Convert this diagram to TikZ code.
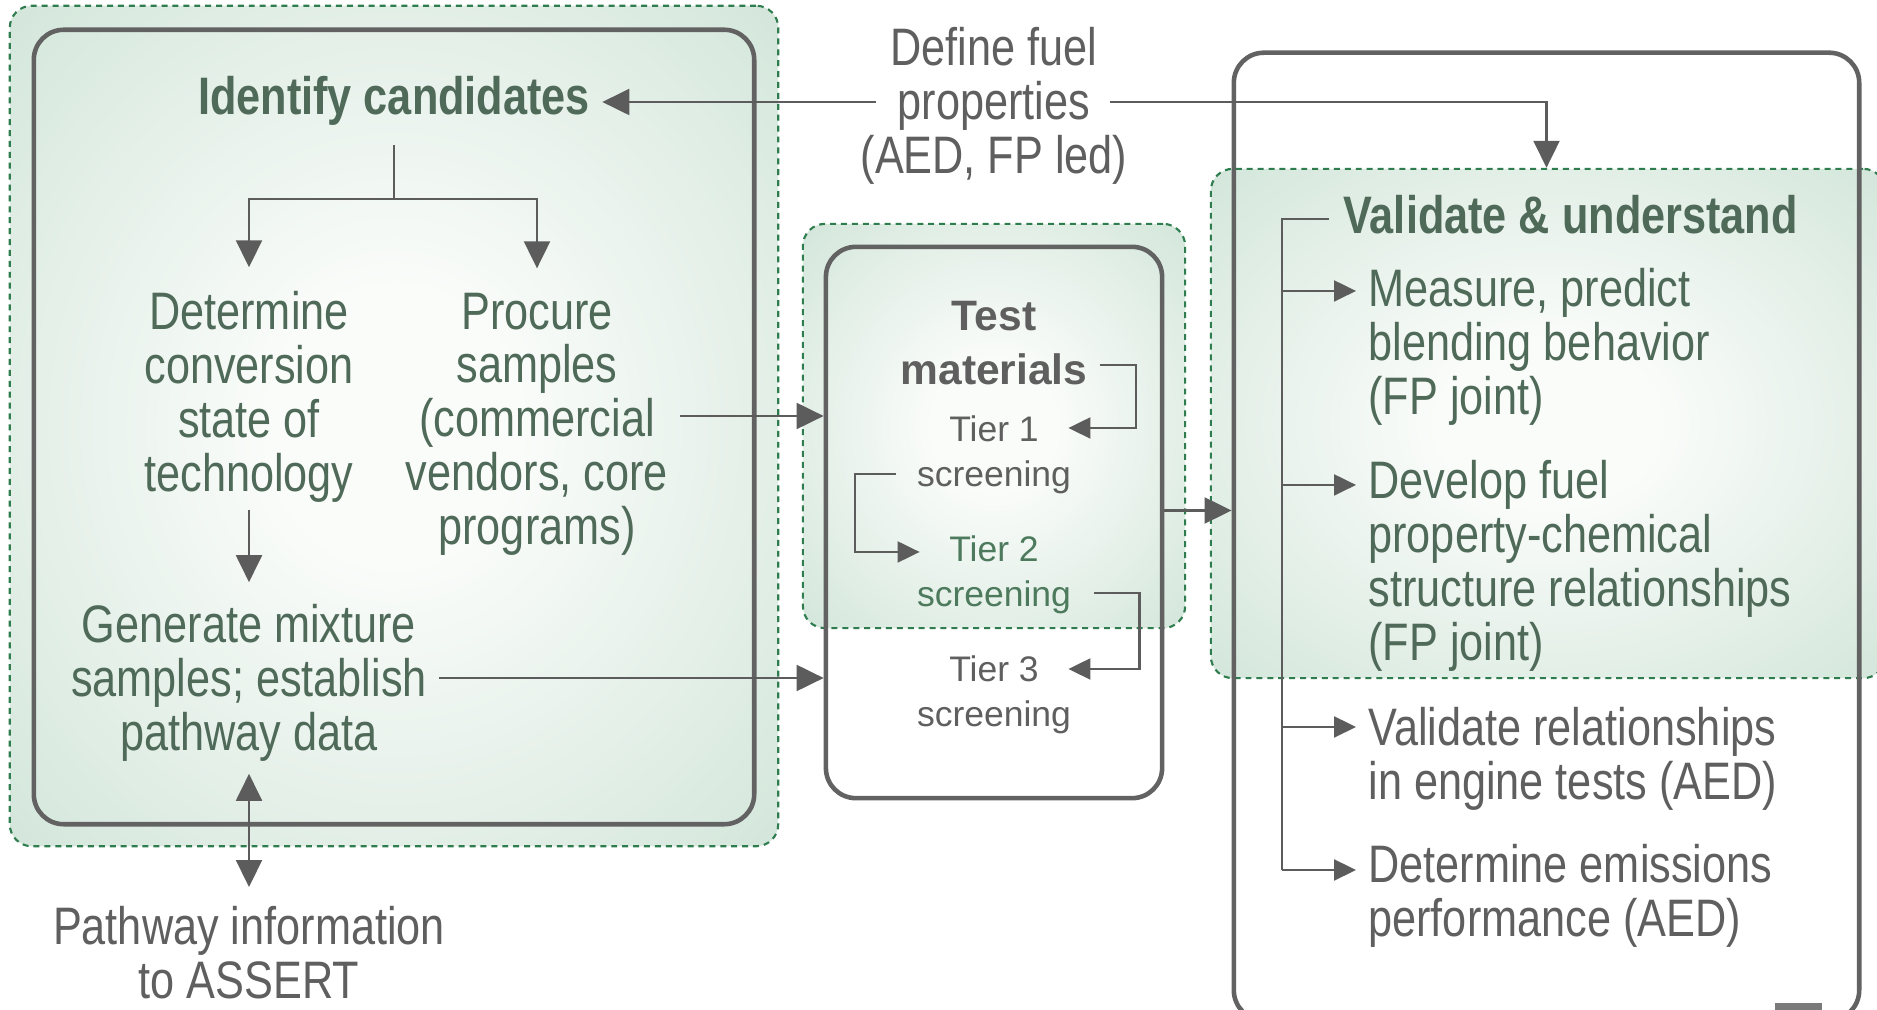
\documentclass[tikz,border=0pt]{standalone}
\usepackage{fontspec}
\setmainfont{Liberation Sans}
\newfontfamily\narrowfont{Liberation Sans}[FakeStretch=0.82]
\usetikzlibrary{arrows.meta,calc}
\definecolor{glowin}{HTML}{FAFCFA}
\definecolor{glowout}{HTML}{CAE1D3}
\definecolor{dgreen}{HTML}{2F7D4E}
\definecolor{boxgray}{HTML}{626262}
\definecolor{lgray}{HTML}{5C5C5C}
\definecolor{tgray}{HTML}{5F5F5F}
\definecolor{gtext}{HTML}{4F6A58}
\definecolor{tgreen}{HTML}{4D7A5C}
\pgfdeclareradialshading{glow}{\pgfpoint{0bp}{0bp}}{color(0bp)=(glowin); color(8bp)=(glowin); color(42bp)=(glowout); color(50bp)=(glowout)}
\begin{document}
\begin{tikzpicture}[x=0.01cm,y=-0.01cm,
  greenbox/.style={draw=dgreen, line width=0.6pt, dash pattern=on 1.7pt off 1.4pt,
    shade, shading=glow, rounded corners=0.22cm, inner sep=0},
  solidbox/.style={draw=boxgray, line width=1.3pt, rounded corners=0.3cm, inner sep=0},
  txt/.style={font=\narrowfont\fontsize{15pt}{15.3pt}\selectfont, align=center},
  btxt/.style={font=\narrowfont\bfseries\fontsize{15pt}{15.3pt}\selectfont, align=center},
  tmtxt/.style={font=\bfseries\fontsize{12.1pt}{15.4pt}\selectfont, align=center},
  tier/.style={font=\fontsize{10.1pt}{12.8pt}\selectfont, align=center},
  line/.style={draw=lgray, line width=0.6pt},
  arr/.style={line, -{Triangle[length=0.27cm,width=0.26cm]}},
  sarr/.style={line, -{Triangle[length=0.22cm,width=0.21cm]}},
  darr/.style={line, {Triangle[length=0.27cm,width=0.26cm]}-{Triangle[length=0.27cm,width=0.26cm]}}
]
\useasboundingbox (0,0) rectangle (1877,1010);
\fill[white] (0,0) rectangle (1877,1010);

% green highlight regions
\node[greenbox, minimum width=7.68cm, minimum height=8.40cm] (gA) at (394,426) {};
\node[greenbox, minimum width=3.82cm, minimum height=4.04cm] (gB) at (994,426) {};
\node[greenbox, minimum width=6.74cm, minimum height=5.09cm] (gC) at (1548,423.5) {};

% solid frames
\node[solidbox, minimum width=7.20cm, minimum height=7.94cm] (bA) at (394,427) {};
\node[solidbox, minimum width=3.36cm, minimum height=5.51cm] (bB) at (994,522.5) {};
\node[solidbox, minimum width=6.25cm, minimum height=9.67cm] (bC) at (1546.5,536.5) {};

% texts, left block
\node[btxt, text=gtext] (idc) at (394,101) {Identify candidates};
\node[txt, text=gtext] (det) at (249,397) {Determine\\conversion\\state of\\technology};
\node[txt, text=gtext] (proc) at (537,424) {Procure\\samples\\(commercial\\vendors, core\\programs)};
\node[txt, text=gtext] (gen) at (249,683) {Generate mixture\\samples; establish\\pathway data};
\node[txt, text=tgray, inner sep=0pt] (path) at (249,953) {Pathway information\\to ASSERT};
\node[txt, text=tgray] (def) at (994,106) {Define fuel\\properties\\(AED, FP led)};

% middle block
\node[tmtxt, text=tgray] (tm) at (994,343) {Test\\materials};
\node[tier, text=tgray] (t1) at (994,455) {Tier 1\\screening};
\node[tier, text=tgreen] (t2) at (994,575) {Tier 2\\screening};
\node[tier, text=tgray] (t3) at (994,695) {Tier 3\\screening};

% right block
\node[btxt, text=gtext, anchor=west] (vu) at (1331,215) {Validate \& understand};
\node[txt, text=gtext, align=left, anchor=west] (m1) at (1356,347) {Measure, predict\\blending behavior\\(FP joint)};
\node[txt, text=gtext, align=left, anchor=west] (m2) at (1356,566) {Develop fuel\\property-chemical\\structure relationships\\(FP joint)};
\node[txt, text=tgray, align=left, anchor=west] (m3) at (1356,759) {Validate relationships\\in engine tests (AED)};
\node[txt, text=tgray, align=left, anchor=west] (m4) at (1356,896) {Determine emissions\\performance (AED)};

% connectors, left block
\draw[line] ([yshift=-0.07cm]idc.south) -- ++(0,54) coordinate (J);
\draw[arr] (J) -| ([yshift=0.12cm]det.north);
\draw[arr] (J) -| ([yshift=0.12cm]proc.north);
\draw[arr] ([yshift=0.05cm]det.south) -- ([yshift=0.1cm]gen.north);
\draw[darr] (gen.south) -- ([yshift=0.19cm]path.north);
\coordinate (pe) at ([yshift=0.08cm]proc.east);
\coordinate (ge) at ([yshift=0.05cm]gen.east);
\draw[arr] (pe) -- (pe -| bB.west);
\draw[arr] (ge) -- (ge -| bB.west);

% define fuel properties
\coordinate (dw) at ([xshift=0.28cm,yshift=0.04cm]def.west);
\coordinate (de) at ([xshift=-0.3cm,yshift=0.04cm]def.east);
\draw[arr] (dw) -- (idc.east |- dw);
\draw[arr] (de) -| (bC.center |- gC.north);

% tiers
\draw[sarr] ([yshift=-0.22cm]tm.east) -- ++(36,0) |- ([xshift=-0.15cm,yshift=0.27cm]t1.east);
\draw[sarr] ([xshift=-0.09cm,yshift=-0.19cm]t1.west) -- ++(-41,0) |- ([xshift=0.15cm,yshift=0.23cm]t2.west);
\draw[sarr] ([xshift=0.11cm,yshift=-0.18cm]t2.east) -- ++(45,0) |- ([xshift=-0.15cm,yshift=0.26cm]t3.east);
\coordinate (be) at ([yshift=0.12cm]bB.east);
\draw[arr] (be) -- (be -| bC.west);

% validate bracket
\coordinate (m1a) at ([yshift=0.56cm]m1.west);
\coordinate (m2a) at ([yshift=0.81cm]m2.west);
\coordinate (m3a) at ([yshift=0.32cm]m3.west);
\coordinate (m4a) at ([yshift=0.26cm]m4.west);
\draw[line] ([xshift=-0.02cm,yshift=-0.04cm]vu.west) -- ++(-47,0) coordinate (vj) -- (vj |- m4a);
\draw[sarr] (vj |- m1a) -- (m1a);
\draw[sarr] (vj |- m2a) -- (m2a);
\draw[sarr] (vj |- m3a) -- (m3a);
\draw[sarr] (vj |- m4a) -- (m4a);

% small mark at the bottom edge
\fill[boxgray!85] (1775,1003) rectangle (1822,1015);
\end{tikzpicture}
\end{document}
